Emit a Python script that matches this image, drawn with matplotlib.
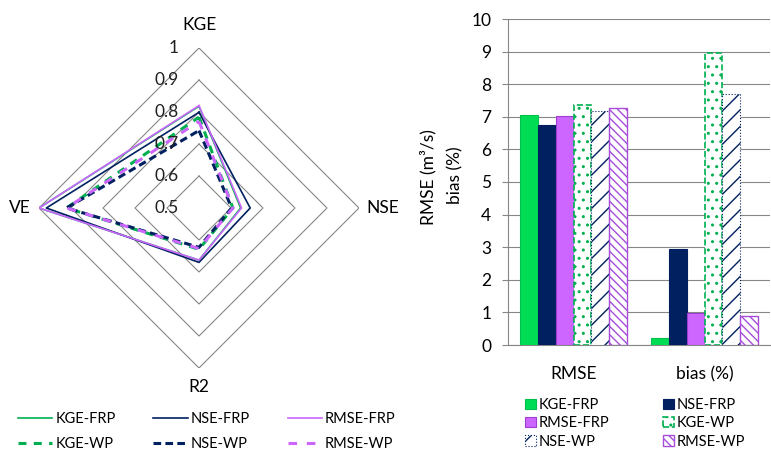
import numpy as np
import matplotlib
matplotlib.use('Agg')
import matplotlib.pyplot as plt
from matplotlib import transforms

plt.rcParams['font.family'] = ['Lato', 'DejaVu Sans']
plt.rcParams['hatch.linewidth'] = 1.0

# radar data (axes clockwise from top)
metrics = ['KGE', 'NSE', 'R2', 'VE']
kge_frp = [0.818, 0.630, 0.663, 1.000]
nse_frp = [0.799, 0.660, 0.670, 0.977]
rmse_frp = [0.820, 0.633, 0.663, 1.000]
kge_wp = [0.784, 0.606, 0.629, 0.914]
nse_wp = [0.742, 0.602, 0.623, 0.914]
rmse_wp = [0.771, 0.606, 0.627, 0.914]
rings = [0.6, 0.7, 0.8, 0.9, 1.0]
ring_labels = ['0.5', '0.6', '0.7', '0.8', '0.9', '1']

# bar data
groups = ['RMSE', 'bias (%)']
names = ['KGE-FRP', 'NSE-FRP', 'RMSE-FRP', 'KGE-WP', 'NSE-WP', 'RMSE-WP']
rmse_vals = [7.04, 6.75, 7.03, 7.36, 7.19, 7.28]
bias_vals = [0.20, 2.93, 0.97, 8.95, 7.71, 0.88]

green = '#00b050'
navy = '#002060'
purple = '#cc66ff'
grey = '#868686'

fig = plt.figure(figsize=(7.71, 4.5), dpi=100)

# ---- radar ----
ax = fig.add_axes([39/771, 82/450, 320/771, 320/450], projection='polar')
ax.set_theta_zero_location('N')
ax.set_theta_direction(-1)
ax.set_ylim(0.5, 1.0)
ax.grid(False)
ax.spines['polar'].set_visible(False)
ax.set_xticks([])
ax.set_yticks([])
ax.patch.set_alpha(0)

ang = np.linspace(0, 2*np.pi, len(metrics), endpoint=False)
ang_c = np.append(ang, ang[0])
for v in rings:
    ax.plot(ang_c, [v]*len(ang_c), color=grey, lw=0.8, zorder=1)

def closed(vals):
    return list(vals) + [vals[0]]

l1, = ax.plot(ang_c, closed(kge_frp), color=green, lw=1.2, label='KGE-FRP')
l2, = ax.plot(ang_c, closed(nse_frp), color=navy, lw=1.2, label='NSE-FRP')
l3, = ax.plot(ang_c, closed(rmse_frp), color=purple, lw=1.2, label='RMSE-FRP')
l4, = ax.plot(ang_c, closed(kge_wp), color=green, lw=2.2, ls=(0, (2.6, 2.4)), label='KGE-WP')
l5, = ax.plot(ang_c, closed(nse_wp), color=navy, lw=2.2, ls=(0, (2.5, 1.4)), label='NSE-WP')
l6, = ax.plot(ang_c, closed(rmse_wp), color=purple, lw=2.2, ls=(0, (2.8, 3.2)), label='RMSE-WP')

off = transforms.offset_copy(ax.transData, fig=fig, x=-20, y=0, units='dots')
for v, t in zip([0.5] + rings, ring_labels):
    ax.text(0, v, t, transform=off, ha='right', va='center', fontsize=12.5, color='#202020')

ax.text(ang[0], 1.072, metrics[0], ha='center', va='center', fontsize=12.5, clip_on=False)
ax.text(ang[1], 1.022, metrics[1], ha='left', va='center', fontsize=12.5, clip_on=False)
ax.text(ang[2], 1.06, metrics[2], ha='center', va='center', fontsize=12.5, clip_on=False)
ax.text(ang[3], 1.025, metrics[3], ha='right', va='center', fontsize=12.5, clip_on=False)

fig.legend([l1, l4, l2, l5, l3, l6],
           ['KGE-FRP', 'KGE-WP', 'NSE-FRP', 'NSE-WP', 'RMSE-FRP', 'RMSE-WP'],
           ncol=3, loc='upper left', bbox_to_anchor=(18/771, 1 - 412/450),
           frameon=False, fontsize=10.5, handlelength=2.35, handletextpad=0.2,
           columnspacing=2.6, labelspacing=0.75, borderpad=0, borderaxespad=0)

# ---- bars ----
ax2 = fig.add_axes([508/771, 105/450, 262/771, 326/450])
x = np.arange(len(groups))
w = 0.136
styles = [
    dict(color='#00dd55', edgecolor='#00c04b', lw=0.8),
    dict(color=navy, edgecolor=navy, lw=0.8),
    dict(color=purple, edgecolor='#9b3fd0', lw=0.8),
    dict(facecolor='white', edgecolor='#00b050', hatch='..', lw=1.2, ls='--'),
    dict(facecolor='white', edgecolor=navy, hatch='//', lw=0.8, ls=':'),
    dict(facecolor='white', edgecolor='#a64ddb', hatch='\\\\\\\\', lw=1.0),
]
bars = []
for i in range(len(names)):
    vals = [rmse_vals[i], bias_vals[i]]
    b = ax2.bar(x + (i - 2.5)*w, vals, w, label=names[i], zorder=3, **styles[i])
    bars.append(b)

ax2.set_xlim(-0.5, 1.5)
ax2.set_ylim(0, 10)
ax2.set_yticks(range(0, 11))
ax2.set_xticks(x)
ax2.set_xticklabels(groups, fontsize=12.5)
ax2.tick_params(axis='x', length=0, pad=15)
ax2.tick_params(axis='y', length=4, color=grey, pad=8, labelsize=12.5)
ax2.yaxis.grid(True, color=grey, lw=0.8)
ax2.set_axisbelow(True)
for s in ['top', 'right']:
    ax2.spines[s].set_visible(False)
for s in ['left', 'bottom']:
    ax2.spines[s].set_color(grey)
    ax2.spines[s].set_linewidth(0.8)

fig.text(428/771, 1 - 177/450, 'RMSE (m³/s)', rotation=90, ha='center', va='center', fontsize=12.5)
fig.text(455/771, 1 - 175/450, 'bias (%)', rotation=90, ha='center', va='center', fontsize=12.5)

fig.legend([bars[0], bars[2], bars[4], bars[1], bars[3], bars[5]],
           ['KGE-FRP', 'RMSE-FRP', 'NSE-WP', 'NSE-FRP', 'KGE-WP', 'RMSE-WP'],
           ncol=2, loc='upper left', bbox_to_anchor=(525/771, 1 - 398/450),
           frameon=False, fontsize=10.5, handlelength=0.72, handleheight=0.72,
           handletextpad=0.2, columnspacing=3.7, labelspacing=0.3,
           borderpad=0, borderaxespad=0)

fig.savefig('out.png', dpi=100)
